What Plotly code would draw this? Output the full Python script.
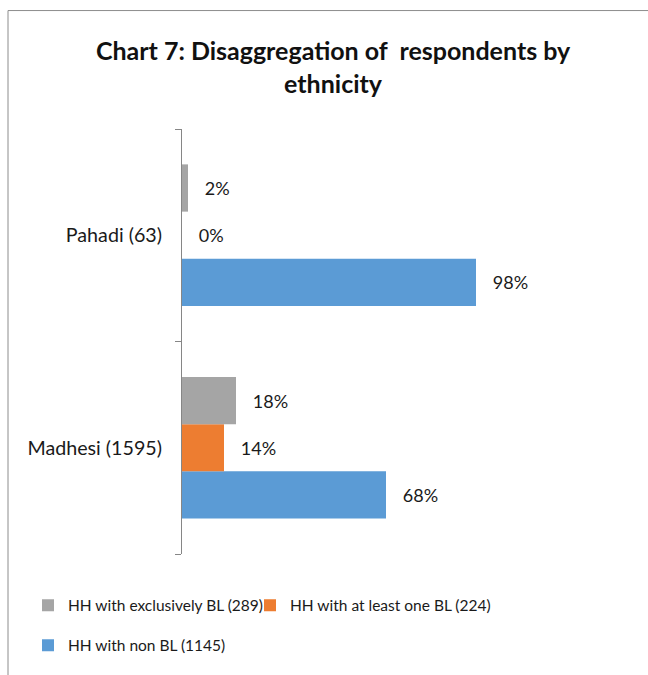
import plotly.graph_objects as go

categories = ["Madhesi (1595)", "Pahadi (63)"]
series_names = ["HH with exclusively BL (289)", "HH with at least one BL (224)", "HH with non BL (1145)"]
exclusively_bl = [0.18, 0.02]
at_least_one_bl = [0.14, 0.00]
non_bl = [0.68, 0.98]
colors = ["#A5A5A5", "#ED7D31", "#5B9BD5"]

FONT = "Lato"
W, H = 648, 675
L, R, T, B = 182, 106, 129, 119
pw, ph = W - L - R, H - T - B

fig = go.Figure()
# traces added bottom-to-top within each group (plotly draws first trace lowest)
order = [(2, non_bl, "legend2"), (1, at_least_one_bl, "legend3"), (0, exclusively_bl, "legend")]
for idx, vals, leg in order:
    fig.add_trace(go.Bar(
        y=categories, x=vals, orientation="h",
        name=series_names[idx], marker=dict(color=colors[idx], line=dict(width=0)),
        texttemplate="\u00a0\u00a0\u00a0%{x:.0%}", textposition="outside",
        textfont=dict(family=FONT, size=18, color="#1a1a1a"),
        cliponaxis=False, legend=leg,
    ))

leg_font = dict(family=FONT, size=15.5, color="#1a1a1a")
fig.update_layout(
    width=W, height=H,
    margin=dict(l=L, r=R, t=T, b=B, pad=0),
    paper_bgcolor="white", plot_bgcolor="white",
    barmode="group", bargap=0.333, bargroupgap=0,
    font=dict(family=FONT, size=16, color="#1a1a1a"),
    title=dict(
        text="<b>Chart 7: Disaggregation of  respondents by<br>ethnicity</b>",
        x=0.514, xanchor="center", y=0.911, yanchor="top", yref="container",
        font=dict(family=FONT, size=25, color="#111111"),
    ),
    xaxis=dict(range=[0, 1.2], visible=False, fixedrange=True),
    yaxis=dict(
        type="category", categoryorder="array", categoryarray=categories,
        range=[-0.5, 1.5],
        showline=True, linecolor="#868686", linewidth=1,
        ticks="outside", tickson="boundaries", ticklen=6, tickcolor="#868686",
        ticklabelstandoff=15, showgrid=False, zeroline=False,
        tickfont=dict(family=FONT, size=19.7, color="#1a1a1a"),
    ),
    legend=dict(
        orientation="h", x=(28 - L) / pw, xanchor="left",
        y=(H - B - 608) / ph, yanchor="middle",
        font=leg_font, bgcolor="rgba(0,0,0,0)",
    ),
    legend3=dict(
        orientation="h", x=(250 - L) / pw, xanchor="left",
        y=(H - B - 608) / ph, yanchor="middle",
        font=leg_font, bgcolor="rgba(0,0,0,0)",
    ),
    legend2=dict(
        orientation="h", x=(28 - L) / pw, xanchor="left",
        y=(H - B - 648) / ph, yanchor="middle",
        font=leg_font, bgcolor="rgba(0,0,0,0)",
    ),
    showlegend=True,
)

# chart frame (top and left border)
fx0 = (8 - L) / pw
fy_top = (H - B - 10) / ph
fy_bot = (H - B - H - 5) / ph
fig.add_shape(type="line", xref="paper", yref="paper", x0=fx0, x1=(W + 5 - L) / pw,
              y0=fy_top, y1=fy_top, line=dict(color="#8c8c8c", width=1))
fig.add_shape(type="line", xref="paper", yref="paper", x0=fx0, x1=fx0,
              y0=fy_top, y1=fy_bot, line=dict(color="#8c8c8c", width=1))

fig.write_html("out.html")
